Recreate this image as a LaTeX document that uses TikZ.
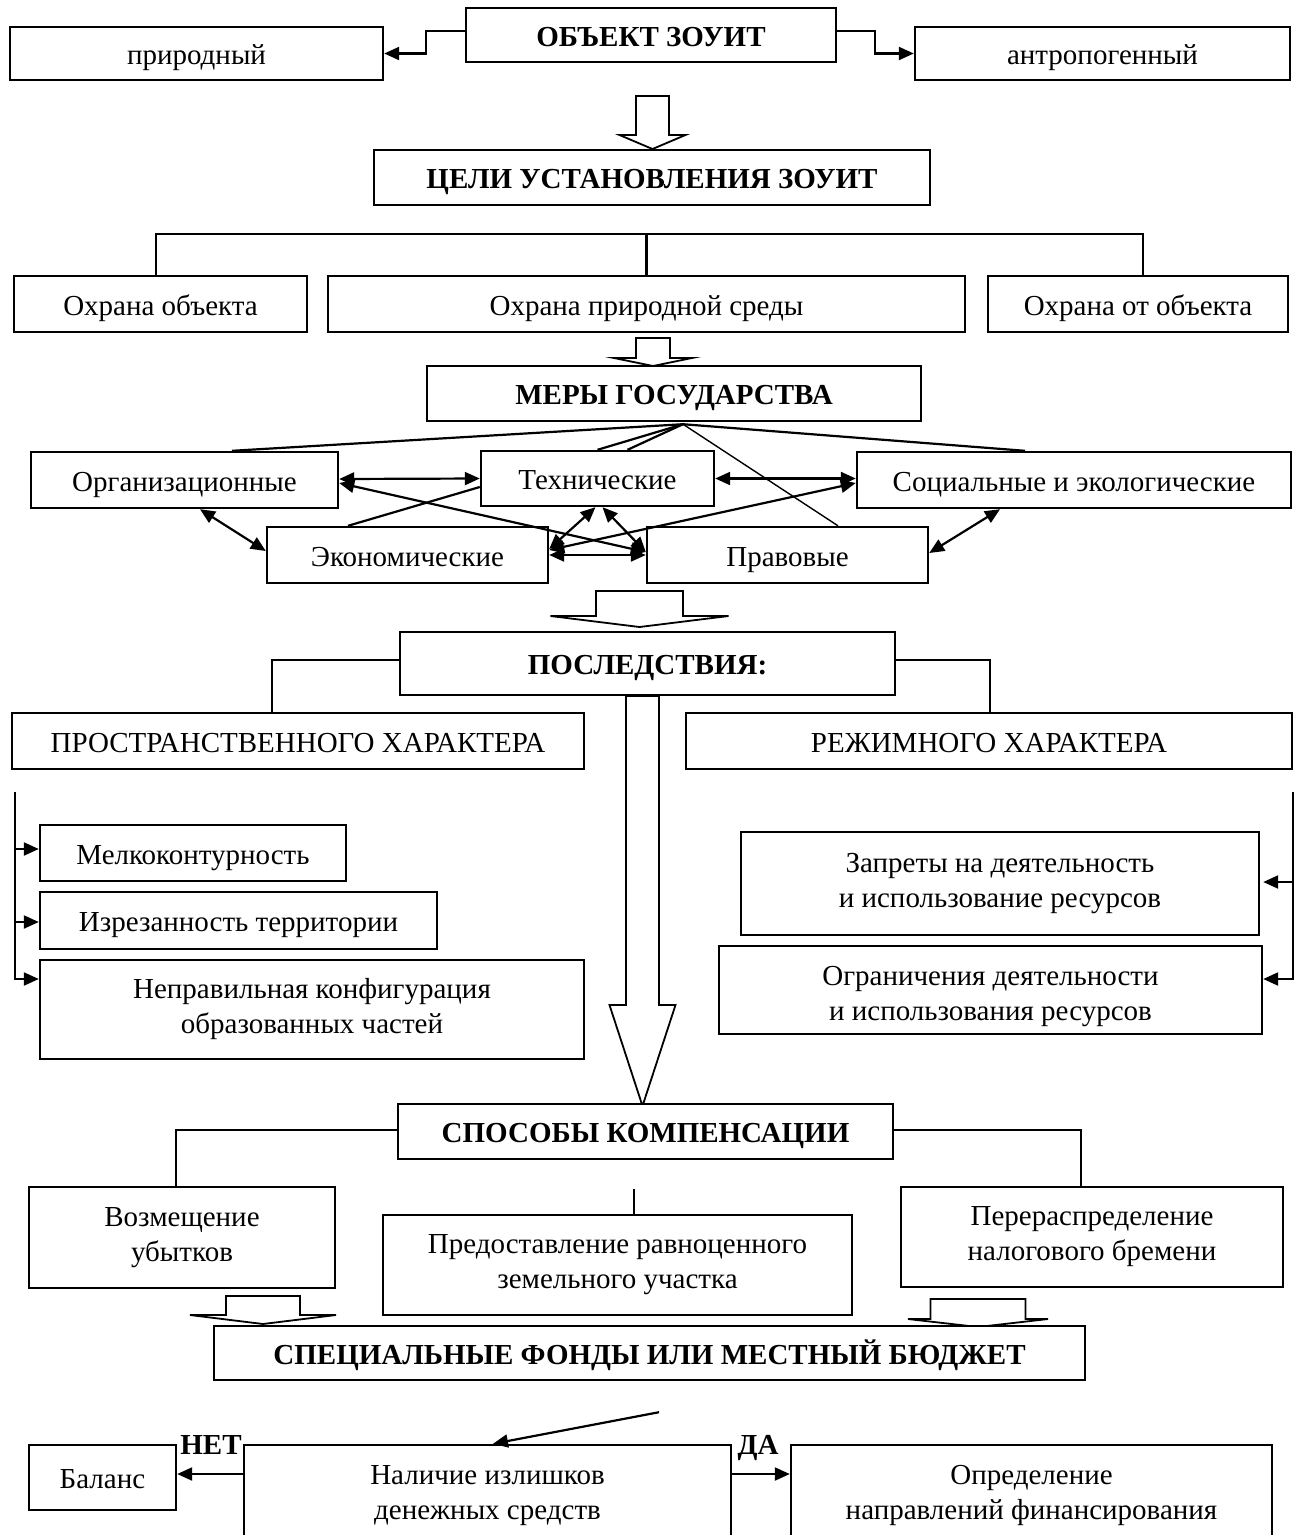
\documentclass[tikz,border=0pt]{standalone}
\usepackage{fontspec}
\setmainfont{Liberation Serif}
\usetikzlibrary{arrows.meta,calc}

% hollow block arrow: centre x, top y, neck y, tip y, half shaft width, half head width
\newcommand{\blockarrow}[6]{%
  \draw[hollow] ({#1-#5},#2) -- ({#1-#5},#3) -- ({#1-#6},#3) -- (#1,#4)
    -- ({#1+#6},#3) -- ({#1+#5},#3) -- ({#1+#5},#2) -- cycle;}

\tikzset{
  txt/.style={font=\fontsize{29}{35}\selectfont, text height=22pt, text depth=0pt},
  box/.style={draw, line width=2.4pt, fill=white, inner sep=0pt, align=center, txt},
  bbox/.style={box, font=\fontsize{29}{35}\selectfont\bfseries},
  mbox/.style={box, text height={}, text depth={}},
  link/.style={line width=2.2pt},
  fine/.style={line width=1.4pt},
  tip/.tip={Triangle[length=15pt,width=13pt]},
  arr/.style={link, -tip},
  darr/.style={link, tip-tip},
  hollow/.style={draw, line width=1.8pt, fill=white, line join=miter},
}

\begin{document}
\begin{tikzpicture}[x=1pt,y=-1pt]
\useasboundingbox (0,0) rectangle (1299,1535);
\clip (0,0) rectangle (1299,1535);

% ---------- object of the zone ----------
\node[bbox, minimum width=370pt, minimum height=54pt] (obj) at (651,35) {ОБЪЕКТ ЗОУИТ};
\node[box, minimum width=373pt, minimum height=53pt] (prir) at (196.5,53.5) {природный};
\node[box, minimum width=375pt, minimum height=53pt] (antr) at (1102.5,53.5) {антропогенный};
\draw[arr] ([yshift=4pt]obj.west) -| ([xshift=41.5pt]prir.east) -- (prir.east);
\draw[arr] ([yshift=4pt]obj.east) -| ([xshift=-39pt]antr.west) -- (antr.west);

\blockarrow{652.5}{96}{135}{149}{16.5}{33}

% ---------- goals ----------
\node[bbox, minimum width=556pt, minimum height=55pt] (celi) at (652,177.5) {ЦЕЛИ УСТАНОВЛЕНИЯ ЗОУИТ};
\node[box, minimum width=293pt, minimum height=56pt] (o1) at (160.5,304) {Охрана объекта};
\node[box, minimum width=637pt, minimum height=56pt] (o2) at (646.5,304) {Охрана природной среды};
\node[box, minimum width=300pt, minimum height=56pt] (o3) at (1138,304) {Охрана от объекта};
\draw[link] ([xshift=-4.5pt]o1.north) -- ++(0,-41) -| ([xshift=5pt]o3.north);
\draw[link] (o2.north) -- ++(0,-41);

\blockarrow{653}{338}{358}{366}{17}{39}

% ---------- state measures ----------
\node[bbox, minimum width=494pt, minimum height=55pt] (mery) at (674,393.5) {МЕРЫ ГОСУДАРСТВА};
\coordinate (apex) at ([xshift=9pt,yshift=-2pt]mery.south);

\node[box, minimum width=307pt, minimum height=56pt] (org) at (184.5,480) {Организационные};
\node[box, minimum width=233pt, minimum height=55pt] (tech) at (597.5,478.5) {Технические};
\node[box, minimum width=434pt, minimum height=56pt] (soc) at (1074,480) {Социальные и экологические};
\node[box, minimum width=281pt, minimum height=56pt] (econ) at (407.5,555) {Экономические};
\node[box, minimum width=281pt, minimum height=56pt] (prav) at (787.5,555) {Правовые};

\draw[link] (apex) -- ([xshift=47.5pt]org.north);
\draw[link] (apex) -- (tech.north);
\draw[link] (apex) -- ([xshift=30pt]tech.north);
\draw[link] (apex) -- ([xshift=-49pt]soc.north);
\draw[fine] (apex) -- ([xshift=50.5pt]prav.north);
\draw[link] ([xshift=-59.5pt]econ.north) -- ([yshift=-8.5pt]tech.west);

\draw[darr] ([yshift=1pt]org.east) -- (tech.west);
\draw[darr] (tech.east) -- ([yshift=1.5pt]soc.west);
\draw[darr] ([yshift=-3pt]org.east) -- ([yshift=3pt]prav.west);
\draw[darr] ([yshift=-3pt]soc.west) -- ([yshift=5pt]econ.east);
\draw[darr] ([xshift=-2pt]tech.south) -- ([yshift=6pt]econ.east);
\draw[darr] ([xshift=5pt]tech.south) -- ([yshift=3pt]prav.west);
\draw[darr] (econ.east) -- (prav.west);
\draw[darr] ([xshift=15.5pt]org.south) -- ([yshift=4pt]econ.west);
\draw[darr] ([xshift=-74pt]soc.south) -- ([yshift=2pt]prav.east);

\blockarrow{639.5}{591}{616}{627}{43.5}{89}

% ---------- consequences ----------
\node[bbox, minimum width=495pt, minimum height=63pt] (posl) at (647.5,663.5) {ПОСЛЕДСТВИЯ:};
\node[box, minimum width=572pt, minimum height=56pt] (prost) at (298,741) {ПРОСТРАНСТВЕННОГО ХАРАКТЕРА};
\node[box, minimum width=606pt, minimum height=56pt] (rezh) at (989,741) {РЕЖИМНОГО ХАРАКТЕРА};
\draw[link] ([yshift=3.5pt]posl.west) -| ([xshift=-26pt]prost.north);
\draw[link] ([yshift=3.5pt]posl.east) -| ([xshift=1pt]rezh.north);

\node[box, minimum width=306pt, minimum height=56pt] (m1) at (193,853) {Мелкоконтурность};
\node[box, minimum width=397pt, minimum height=57pt] (m2) at (238.5,920.5) {Изрезанность территории};
\node[mbox, minimum width=544pt, minimum height=99pt] (m3) at (312,1009.5) {Неправильная конфигурация\\образованных частей};
\coordinate (lt) at (15,792);
\coordinate (m1in) at ([yshift=4pt]m1.west);
\coordinate (m2in) at ([yshift=-1.5pt]m2.west);
\coordinate (m3in) at ([yshift=30.5pt]m3.west);
\draw[arr] (lt) |- (m3in);
\draw[arr] (lt |- m1in) -- (m1in);
\draw[arr] (lt |- m2in) -- (m2in);

\node[mbox, minimum width=518pt, minimum height=103pt] (z1) at (1000,883.5) {Запреты на деятельность\\и использование ресурсов};
\node[mbox, minimum width=543pt, minimum height=88pt] (z2) at (990.5,990) {\rule{0pt}{32pt}Ограничения деятельности\\и использования ресурсов};
\coordinate (rt) at (1293,792);
\coordinate (z1in) at ([xshift=3pt,yshift=1.5pt]z1.east);
\coordinate (z2in) at ([yshift=11pt]z2.east);
\draw[arr] (rt) |- (z2in);
\draw[arr] (rt |- z1in) -- (z1in);

\blockarrow{642.5}{696}{1005}{1106}{16.5}{33}

% ---------- compensation ----------
\node[bbox, minimum width=495pt, minimum height=55pt] (spos) at (645.5,1131.5) {СПОСОБЫ КОМПЕНСАЦИИ};
\node[mbox, minimum width=306pt, minimum height=101pt] (c1) at (182,1237.5) {Возмещение\\убытков};
\node[mbox, minimum width=469pt, minimum height=100pt] (c2) at (617.5,1265) {Предоставление равноценного\\земельного участка};
\node[mbox, minimum width=382pt, minimum height=100pt] (c3) at (1092,1237) {Перераспределение\\налогового бремени};
\draw[link] ([yshift=1.5pt]spos.west) -| ([xshift=-6pt]c1.north);
\draw[link] ([yshift=1.5pt]spos.east) -| ([xshift=-11pt]c3.north);
\draw[fine] ([xshift=16.5pt]c2.north) -- ++(0,-25);

\blockarrow{263}{1296}{1315}{1324}{37}{73}
\blockarrow{978}{1299}{1319}{1327}{47.5}{70}

% ---------- funds ----------
\node[bbox, minimum width=871pt, minimum height=54pt] (spec) at (649.5,1353) {СПЕЦИАЛЬНЫЕ ФОНДЫ ИЛИ МЕСТНЫЙ БЮДЖЕТ};

\node[box, minimum width=147pt, minimum height=65pt] (bal) at (102.5,1477.5) {Баланс};
\node[mbox, minimum width=487pt, minimum height=100pt] (nal) at (487.5,1495) {\raisebox{3pt}{\begin{tabular}{@{}c@{}}Наличие излишков\\денежных средств\end{tabular}}};
\node[mbox, minimum width=481pt, minimum height=100pt] (opr) at (1031.5,1495) {\raisebox{3pt}{\begin{tabular}{@{}c@{}}Определение\\направлений финансирования\end{tabular}}};

\coordinate (src) at ([xshift=9.5pt,yshift=-31pt]spec.south);
\draw[arr] (src) -- ([xshift=5.5pt]nal.north);
\draw[arr] ([yshift=21pt]nal.west) -- ([yshift=3.5pt]bal.east);
\draw[arr] ([yshift=21pt]nal.east) -- ([yshift=21pt]opr.west);

\node[txt, font=\fontsize{29}{35}\selectfont\bfseries] (no) at (211,1443) {НЕТ};
\node[txt, font=\fontsize{29}{35}\selectfont\bfseries] (yes) at (758,1443) {ДА};
\end{tikzpicture}
\end{document}
